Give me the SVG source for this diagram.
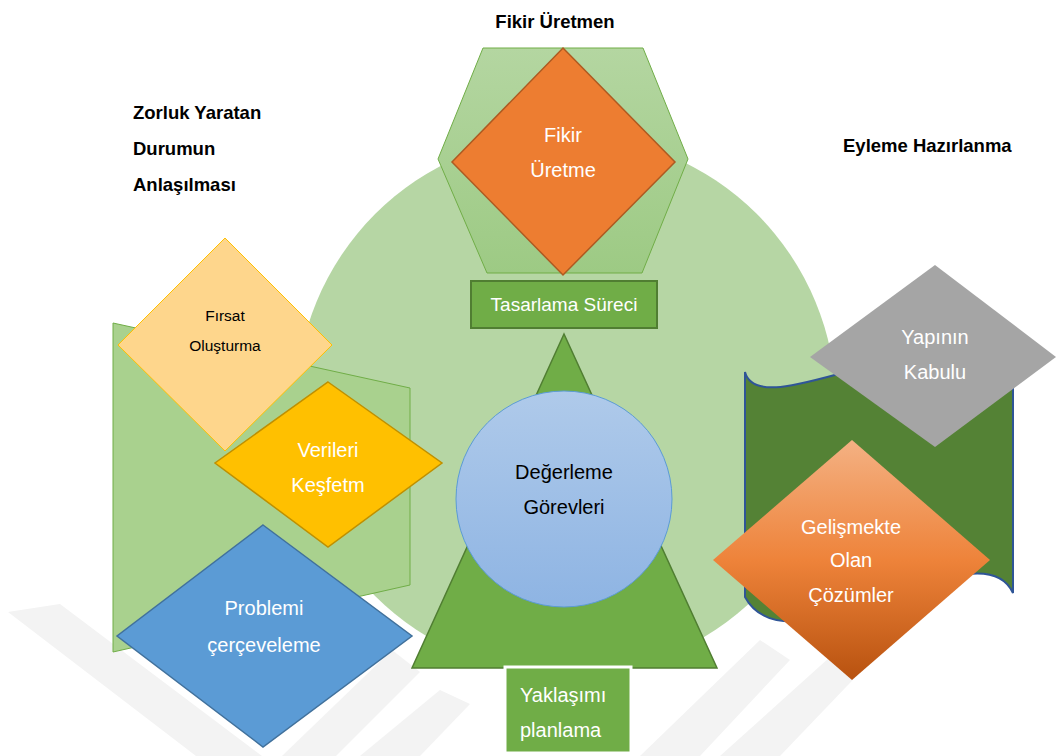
<svg xmlns="http://www.w3.org/2000/svg" width="1056" height="756" viewBox="0 0 1056 756">
<defs>
<linearGradient id="gHex" x1="0" y1="0" x2="0" y2="1"><stop offset="0" stop-color="#b4d6a1"/><stop offset="1" stop-color="#9dca84"/></linearGradient>
<linearGradient id="gBlue" x1="0" y1="0" x2="0" y2="1"><stop offset="0" stop-color="#afcaea"/><stop offset="1" stop-color="#8eb4e3"/></linearGradient>
<linearGradient id="gOrange" x1="0" y1="0" x2="0" y2="1"><stop offset="0" stop-color="#f4b183"/><stop offset="0.5" stop-color="#ee833a"/><stop offset="1" stop-color="#b8520f"/></linearGradient>
<style>
.lbl{font-family:"Liberation Sans",Arial,sans-serif;font-size:20px;text-anchor:middle;fill:#ffffff}
.dark{fill:#000000}
.ttl{font-family:"Liberation Sans",Arial,sans-serif;font-size:18.5px;font-weight:bold;fill:#000000}
.wm{fill:#f3f3f3}
</style>
</defs>
<rect width="1056" height="756" fill="#ffffff"/>
<g id="watermark">
<polygon class="wm" points="8,612 60,604 262,756 196,756"/>
<polygon class="wm" points="282,756 336,756 420,672 392,650"/>
<polygon class="wm" points="360,756 420,756 470,704 440,690"/>
<polygon class="wm" points="640,756 700,756 790,660 760,640"/>
<polygon class="wm" points="720,756 780,756 870,662 840,648"/>
</g>
<g id="bg-circle"><circle cx="566" cy="405" r="270" fill="#b6d6a4"/></g>
<g id="fikir-uretmen">
<polygon points="483,48 643,48 688,159 642,273 487,273 438,159" fill="url(#gHex)" stroke="#70ad47" stroke-width="1"/>
</g>
<g id="fikir-uretme">
<polygon points="563,48 675,162 563,275 452,162" fill="#ed7d31" stroke="#ae5a21" stroke-width="1.5"/>
<text class="lbl" x="563" y="142">Fikir</text>
<text class="lbl" x="563" y="177">Üretme</text>
</g>
<g id="tasarlama">
<rect x="471" y="281" width="186" height="47" fill="#70ad47" stroke="#507e32" stroke-width="2"/>
<text class="lbl" x="564" y="311" style="font-size:19px">Tasarlama Süreci</text>
</g>
<g id="left-panel">
<polygon points="113,323 410,388 410,585 113,652" fill="#a9d18e" stroke="#70ad47" stroke-width="1"/>
</g>
<g id="firsat">
<polygon points="225,238 332,345 225,451 118,345" fill="#fed68c" stroke="#ffc000" stroke-width="1"/>
<text class="lbl dark" x="225" y="321" style="font-size:15.5px">Fırsat</text>
<text class="lbl dark" x="225" y="351" style="font-size:15.5px">Oluşturma</text>
</g>
<g id="verileri">
<polygon points="328,382 442,463 328,547 215,463" fill="#ffc000" stroke="#bf9000" stroke-width="1.5"/>
<text class="lbl" x="328" y="457">Verileri</text>
<text class="lbl" x="328" y="492">Keşfetm</text>
</g>
<g id="problemi">
<polygon points="263,525 412,636 263,747 117,636" fill="#5b9bd5" stroke="#41719c" stroke-width="1.5"/>
<text class="lbl" x="264" y="615">Problemi</text>
<text class="lbl" x="264" y="652">çerçeveleme</text>
</g>
<g id="triangle">
<polygon points="564,334 717,668 412,668" fill="#70ad47" stroke="#507e32" stroke-width="1.5"/>
</g>
<g id="degerleme">
<circle cx="564" cy="499" r="108" fill="url(#gBlue)" stroke="#5b9bd5" stroke-width="1"/>
<text class="lbl dark" x="564" y="479">Değerleme</text>
<text class="lbl dark" x="564" y="514">Görevleri</text>
</g>
<g id="yaklasimi">
<rect x="505" y="667" width="126" height="86" fill="#70ad47" stroke="#ffffff" stroke-width="3"/>
<text class="lbl" x="520" y="702" style="text-anchor:start">Yaklaşımı</text>
<text class="lbl" x="520" y="737" style="text-anchor:start">planlama</text>
</g>
<g id="scroll">
<path d="M745,372 C760,430 960,300 1013,372 L1013,593 C980,520 790,680 745,597 Z" fill="#548235" stroke="#2f5597" stroke-width="2"/>
</g>
<g id="yapinin">
<polygon points="935,265 1056,357 935,447 810,357" fill="#a5a5a5"/>
<text class="lbl" x="935" y="344">Yapının</text>
<text class="lbl" x="935" y="379">Kabulu</text>
</g>
<g id="gelismekte">
<polygon points="852,440 990,560 852,680 713,560" fill="url(#gOrange)"/>
<text class="lbl" x="851" y="534">Gelişmekte</text>
<text class="lbl" x="851" y="567">Olan</text>
<text class="lbl" x="851" y="602">Çözümler</text>
</g>
<g id="titles">
<text class="ttl" x="555" y="28" text-anchor="middle">Fikir Üretmen</text>
<text class="ttl" x="133" y="119">Zorluk Yaratan</text>
<text class="ttl" x="133" y="155">Durumun</text>
<text class="ttl" x="133" y="191">Anlaşılması</text>
<text class="ttl" x="843" y="152">Eyleme Hazırlanma</text>
</g>
<g id="connectors"></g>
</svg>
